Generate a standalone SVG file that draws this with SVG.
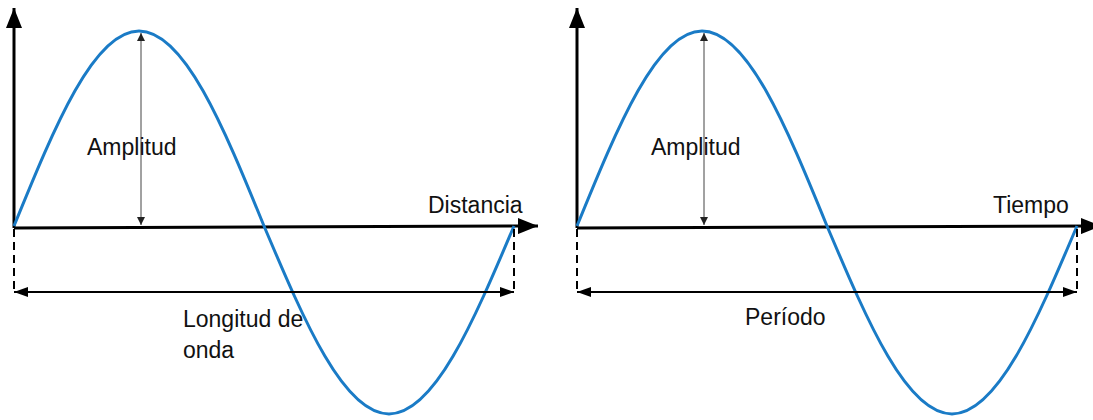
<svg xmlns="http://www.w3.org/2000/svg" width="1093" height="420" viewBox="0 0 1093 420">
<style>
.axis{stroke:#000;stroke-width:3;fill:none}
.wave{stroke:#1a7bc6;stroke-width:3;fill:none}
.amp{stroke:#444;stroke-width:1;fill:none}
.dash{stroke:#000;stroke-width:2;stroke-dasharray:8 5;fill:none}
.dim{stroke:#000;stroke-width:2;fill:none}
text{font-family:"Liberation Sans",Arial,sans-serif;font-size:23px;fill:#111}
</style>
<defs>
<marker id="ax" viewBox="0 0 20 16" refX="20" refY="8" markerWidth="20" markerHeight="16" orient="auto" markerUnits="userSpaceOnUse">
<path d="M0,0 L20,8 L0,16 Z" fill="#000"/>
</marker>
<marker id="dimh" viewBox="0 0 14 10" refX="14" refY="5" markerWidth="14" markerHeight="10" orient="auto-start-reverse" markerUnits="userSpaceOnUse">
<path d="M0,0 L14,5 L0,10 Z" fill="#000"/>
</marker>
<marker id="amph" viewBox="0 0 8 8" refX="8" refY="4" markerWidth="8" markerHeight="8" orient="auto-start-reverse" markerUnits="userSpaceOnUse">
<path d="M0,0 L8,4 L0,8 Z" fill="#222"/>
</marker>
</defs>

<g id="panel-distancia">
<g id="axes-left">
<line class="axis" x1="14" y1="228" x2="14" y2="8" marker-end="url(#ax)"/>
<line class="axis" x1="14" y1="228" x2="538" y2="226" marker-end="url(#ax)"/>
</g>
<g id="wave-left">
<path class="wave" d="M14,226 C54.8,126.1 93.8,31 139,31 C184.2,31 223.2,126.1 264,226 C304.8,322.3 343.8,414 389,414 C434.2,414 473.2,322.3 514,226"/>
</g>
<g id="connectors-left">
<line class="amp" x1="141" y1="33" x2="141" y2="225" marker-start="url(#amph)" marker-end="url(#amph)"/>
<line class="dash" x1="14" y1="229" x2="14" y2="293"/>
<line class="dash" x1="514" y1="229" x2="514" y2="293"/>
<line class="dim" x1="14" y1="292" x2="514" y2="292" marker-start="url(#dimh)" marker-end="url(#dimh)"/>
</g>
<g id="labels-left">
<text x="87" y="155">Amplitud</text>
<text x="428" y="213">Distancia</text>
<text x="183" y="327">Longitud de</text>
<text x="183" y="358">onda</text>
</g>
</g>

<g id="panel-tiempo" transform="translate(563,0)">
<g id="axes-right">
<line class="axis" x1="14" y1="228" x2="14" y2="8" marker-end="url(#ax)"/>
<line class="axis" x1="14" y1="228" x2="538" y2="226" marker-end="url(#ax)"/>
</g>
<g id="wave-right">
<path class="wave" d="M14,226 C54.8,126.1 93.8,31 139,31 C184.2,31 223.2,126.1 264,226 C304.8,322.3 343.8,414 389,414 C434.2,414 473.2,322.3 514,226"/>
</g>
<g id="connectors-right">
<line class="amp" x1="141" y1="33" x2="141" y2="225" marker-start="url(#amph)" marker-end="url(#amph)"/>
<line class="dash" x1="14" y1="229" x2="14" y2="293"/>
<line class="dash" x1="514" y1="229" x2="514" y2="293"/>
<line class="dim" x1="14" y1="292" x2="514" y2="292" marker-start="url(#dimh)" marker-end="url(#dimh)"/>
</g>
<g id="labels-right">
<text x="88" y="155">Amplitud</text>
<text x="430" y="213">Tiempo</text>
<text x="182" y="325">Período</text>
</g>
</g>
</svg>
